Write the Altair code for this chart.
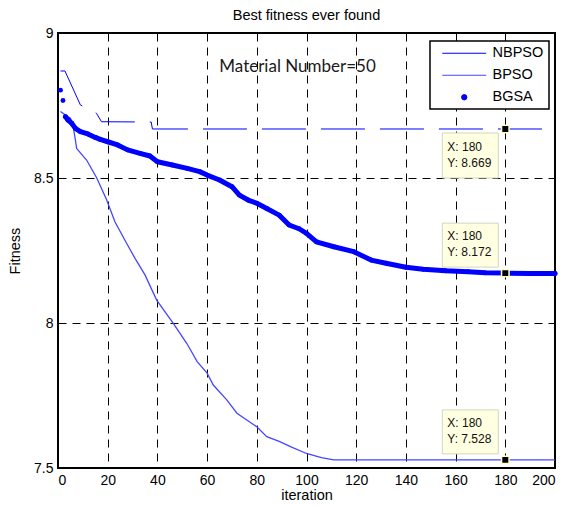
import altair as alt
import pandas as pd

# ---------------- data ----------------
series_names = ["NBPSO", "BPSO", "BGSA"]
series_colors = ["#0000ff", "#4646ff", "#0000ff"]

iters_nbpso = [1, 2.8, 9, 10.5, 15.5, 17.5, 37.5, 38, 200]
fit_nbpso = [8.869, 8.869, 8.752, 8.745, 8.723, 8.694, 8.693, 8.669, 8.669]

iters_bpso = [1, 3, 5, 6, 7, 7.5, 8.5, 11.5, 15.6, 19.6, 22.9, 27.6, 31, 35, 39.7,
              46.4, 51.8, 56, 60, 62.5, 68, 72, 80, 84, 89, 94, 100, 106, 111, 200]
fit_bpso = [8.729, 8.717, 8.706, 8.683, 8.631, 8.602, 8.592, 8.562, 8.5, 8.424,
            8.349, 8.275, 8.223, 8.166, 8.079, 7.999, 7.93, 7.867, 7.827, 7.786,
            7.734, 7.689, 7.642, 7.608, 7.592, 7.572, 7.55, 7.536, 7.528, 7.528]

iters_bgsa = [1, 2, 3, 4, 5.5, 7, 9, 12, 15, 17, 20, 24, 28, 33, 37, 40, 46, 52, 57, 60,
              65, 70, 73, 76.5, 80, 84, 89, 93, 97, 100, 104, 111, 119, 126, 132, 140,
              147, 156, 165, 172, 180, 190, 200]
fit_bgsa = [8.803, 8.767, 8.711, 8.70, 8.689, 8.671, 8.66, 8.652, 8.64, 8.633,
            8.625, 8.614, 8.597, 8.585, 8.576, 8.556, 8.545, 8.533, 8.522, 8.51,
            8.493, 8.47, 8.441, 8.424, 8.413, 8.395, 8.372, 8.338, 8.325, 8.309,
            8.28, 8.263, 8.246, 8.217, 8.206, 8.192, 8.185, 8.18, 8.177, 8.173,
            8.172, 8.171, 8.171]

tip_x = [180, 180, 180]
tip_y = [8.669, 8.172, 7.528]
tip_side = ["below", "above", "above"]

x_ticks = list(range(0, 201, 20))
y_ticks = [7.5, 8, 8.5, 9]

title_text = "Best fitness ever found"
annot_text = ["Material Number=50"]
annot_x = [96.4]
annot_y = [8.884]

# ---------------- tables ----------------
df_nbpso = pd.DataFrame({"iteration": iters_nbpso, "fitness": fit_nbpso})
df_bpso = pd.DataFrame({"iteration": iters_bpso, "fitness": fit_bpso})
df_bgsa = pd.DataFrame({"iteration": iters_bgsa, "fitness": fit_bgsa})
df_tip = pd.DataFrame({"iteration": tip_x, "fitness": tip_y, "side": tip_side})
df_tip["xl"] = ["X: %d" % v for v in tip_x]
df_tip["yl"] = ["Y: %.3f" % v for v in tip_y]
df_leg = pd.DataFrame({"series": series_names})
df_ann = pd.DataFrame({"t": annot_text, "iteration": annot_x, "fitness": annot_y})
df_title = pd.DataFrame({"t": [title_text]})

FONT = "Liberation Sans"
W, H = 497, 435

xscale = alt.Scale(domain=[0, 200], nice=False, zero=False)
yscale = alt.Scale(domain=[7.5, 9], nice=False, zero=False)

x_enc = alt.X("iteration:Q", scale=xscale, title="iteration",
              axis=alt.Axis(values=x_ticks, format="d", ticks=False, domain=False,
                            grid=True, gridColor="black", gridDash=[8, 6], gridWidth=1,
                            gridOpacity=1, labelFont=FONT, labelFontSize=14, labelColor="black",
                            labelPadding=5, titleFont=FONT, titleFontSize=14.5,
                            titleFontWeight="normal", titleColor="black", titlePadding=1))
y_enc = alt.Y("fitness:Q", scale=yscale, title="Fitness",
              axis=alt.Axis(values=y_ticks, format=".1~f", ticks=False, domain=False,
                            grid=True, gridColor="black", gridDash=[8, 6], gridWidth=1,
                            gridOpacity=1, labelFont=FONT, labelFontSize=14, labelColor="black",
                            labelPadding=5, titleFont=FONT, titleFontSize=14.5,
                            titleFontWeight="normal", titleColor="black", titlePadding=11))

base_x = alt.X("iteration:Q", scale=xscale)
base_y = alt.Y("fitness:Q", scale=yscale)

axes_layer = alt.Chart(df_bgsa).mark_point(opacity=0).encode(x=x_enc, y=y_enc)

nbpso = alt.Chart(df_nbpso).mark_line(color=series_colors[0], strokeWidth=1,
                                      strokeDash=[44, 15]).encode(x=base_x, y=base_y)
bpso = alt.Chart(df_bpso).mark_line(color=series_colors[1], strokeWidth=1.3).encode(x=base_x, y=base_y)

bgsa_line = alt.Chart(df_bgsa).transform_filter("datum.iteration >= 3").mark_line(
    color=series_colors[2], strokeWidth=5, strokeCap="round", strokeJoin="round"
).encode(x=base_x, y=base_y)
bgsa_pts = alt.Chart(df_bgsa).mark_circle(color=series_colors[2], size=24, opacity=1).encode(x=base_x, y=base_y)

# legend (drawn by the library from a hidden layer)
line_path = "M-8.3,0H8.3"
leg = alt.Legend(title=None, orient="none", legendX=372, legendY=8, padding=5,
                 symbolOffset=22, labelOffset=21, rowPadding=7,
                 labelFont=FONT, labelFontSize=14.5, labelColor="black",
                 fillColor="white", strokeColor="black", symbolSize=28,
                 symbolStrokeWidth=1, symbolOpacity=1)
shape_scale = alt.Scale(domain=series_names, range=[line_path, line_path, "circle"])
col_scale = alt.Scale(domain=series_names, range=series_colors)
legend_layer = alt.Chart(df_leg).mark_point(filled=True, opacity=0).encode(
    x=alt.value(10), y=alt.value(10),
    fill=alt.Fill("series:N", scale=col_scale, legend=leg, sort=series_names),
    stroke=alt.Stroke("series:N", scale=col_scale, legend=leg, sort=series_names),
    shape=alt.Shape("series:N", scale=shape_scale, legend=leg, sort=series_names),
)

# data tips
tip_base = alt.Chart(df_tip)
box_below = tip_base.transform_filter("datum.side == 'below'").mark_rect(
    fill="#ffffe1", stroke="#d4d4c0", strokeWidth=1,
    xOffset=-63, x2Offset=-7, yOffset=4, y2Offset=49
).encode(x=base_x, x2="iteration", y=base_y, y2="fitness")
box_above = tip_base.transform_filter("datum.side == 'above'").mark_rect(
    fill="#ffffe1", stroke="#d4d4c0", strokeWidth=1,
    xOffset=-63, x2Offset=-7, yOffset=-50, y2Offset=-6
).encode(x=base_x, x2="iteration", y=base_y, y2="fitness")

def tip_text(side, field, dy):
    return tip_base.transform_filter("datum.side == '%s'" % side).mark_text(
        align="left", baseline="middle", dx=-58, dy=dy, font=FONT, fontSize=12, color="#111"
    ).encode(x=base_x, y=base_y, text=field + ":N")

texts = [tip_text("below", "xl", 18), tip_text("below", "yl", 34),
         tip_text("above", "xl", -37), tip_text("above", "yl", -21)]

markers = tip_base.mark_square(size=56, fill="black", stroke="#ffffcc", strokeWidth=1.5,
                               opacity=1).encode(x=base_x, y=base_y)

annot = alt.Chart(df_ann).mark_text(font="Lato", fontSize=17, color="#1a1a1a",
                                    align="center", baseline="middle").encode(
    x=base_x, y=base_y, text="t:N")

title_mark = alt.Chart(df_title).mark_text(font=FONT, fontSize=14.5, color="black",
                                           align="center", baseline="alphabetic").encode(
    x=alt.value(W / 2), y=alt.value(-13), text="t:N")

chart = alt.layer(axes_layer, nbpso, bpso, bgsa_line, bgsa_pts, box_below, box_above,
                  *texts, markers, annot, title_mark, legend_layer).properties(
    width=W, height=H,
    autosize=alt.AutoSizeParams(type="none"),
    padding={"left": 50, "top": 25, "right": 3, "bottom": 38},
).configure_view(stroke="black", strokeWidth=2).configure_legend(strokeWidth=1.5)

chart.save("out.html", embed_options={"renderer": "svg", "actions": False})
